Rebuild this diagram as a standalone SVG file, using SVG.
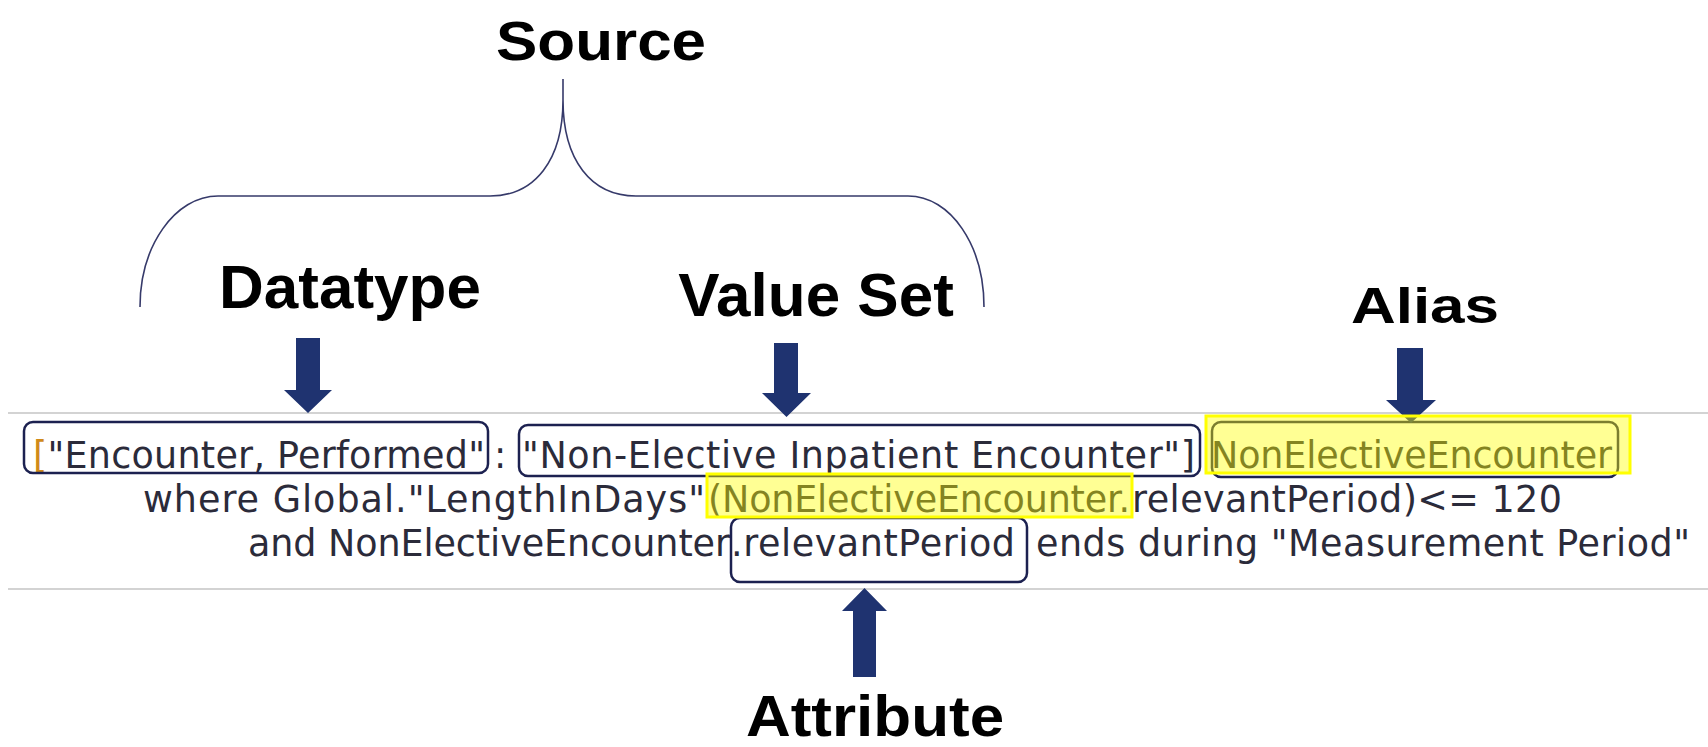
<svg xmlns="http://www.w3.org/2000/svg" width="1708" height="747" viewBox="0 0 1708 747">
<style>
.lbl{font-family:"Liberation Sans",Arial,sans-serif;font-weight:bold;font-size:62px;fill:#000;text-anchor:middle}
.code{font-family:"DejaVu Sans",Verdana,sans-serif;font-size:36.5px;fill:#2b2b3a}
.box{fill:none;stroke:#1c2150;stroke-width:2.5}
.hl{fill:#ffff00;fill-opacity:0.42;stroke:#ffff00;stroke-width:3}
.arrow{fill:#1f3370}
.rule{stroke:#c4c4c4;stroke-width:1.5}
</style>
<rect width="1708" height="747" fill="#ffffff"/>
<line class="rule" x1="8" y1="413" x2="1708" y2="413"/>
<line class="rule" x1="8" y1="589" x2="1708" y2="589"/>

<g id="code">
<text class="code" x="33" y="468" textLength="452"><tspan fill="#d08a1a">[</tspan>"Encounter, Performed"</text>
<text class="code" x="494" y="468">:</text>
<text class="code" x="522" y="468" textLength="673">"Non-Elective Inpatient Encounter"]</text>
<text class="code" x="1211" y="468" textLength="401">NonElectiveEncounter</text>
<text class="code" x="143" y="512" textLength="562">where Global."LengthInDays"</text>
<text class="code" x="708" y="512" textLength="422">(NonElectiveEncounter.</text>
<text class="code" x="1132" y="512" textLength="430">relevantPeriod)&lt;= 120</text>
<text class="code" x="248" y="556" textLength="482">and NonElectiveEncounter</text>
<text class="code" x="731" y="556" textLength="284">.relevantPeriod</text>
<text class="code" x="1036" y="556" textLength="654">ends during "Measurement Period"</text>
</g>

<g id="source">
<text class="lbl" transform="translate(601,60) scale(1,0.9)">Source</text>
</g>
<g id="brace">
<path d="M140,307 C140,246 175,196 218,196 L490,196 C535,196 563,160 563,100 L563,79 M563,100 C563,160 591,196 636,196 L908,196 C951,196 984,246 984,307" fill="none" stroke="#363a6a" stroke-width="1.6"/>
</g>
<g id="datatype">
<text class="lbl" transform="translate(350,308) scale(1,0.98)">Datatype</text>
<rect class="box" x="24" y="422" width="464" height="51" rx="9"/>
</g>
<g id="valueset">
<text class="lbl" transform="translate(816,316) scale(1,0.98)">Value Set</text>
<rect class="box" x="519" y="425" width="681" height="51" rx="9"/>
</g>
<g id="alias">
<text class="lbl" transform="translate(1425,323) scale(1,0.8)">Alias</text>
<rect class="box" x="1212" y="422" width="406" height="55" rx="9"/>
</g>
<g id="attribute">
<text class="lbl" transform="translate(875,736) scale(1,0.93)">Attribute</text>
<rect class="box" x="731" y="518" width="296" height="64" rx="9"/>
</g>

<g id="connectors">
<polygon class="arrow" points="296,338 320,338 320,390 332,390 308,413 284,390 296,390"/>
<polygon class="arrow" points="774,343 798,343 798,393 811,393 786.5,417 762,393 774,393"/>
<polygon class="arrow" points="1397,348 1423,348 1423,400 1436,400 1411,423 1386,400 1397,400"/>
<polygon class="arrow" points="864.5,588 887,611 876,611 876,677 853,677 853,611 842,611"/>
</g>

<g id="highlights">
<rect class="hl" x="1206" y="416" width="424" height="57"/>
<rect class="hl" x="707" y="474" width="425" height="43"/>
</g>
</svg>
